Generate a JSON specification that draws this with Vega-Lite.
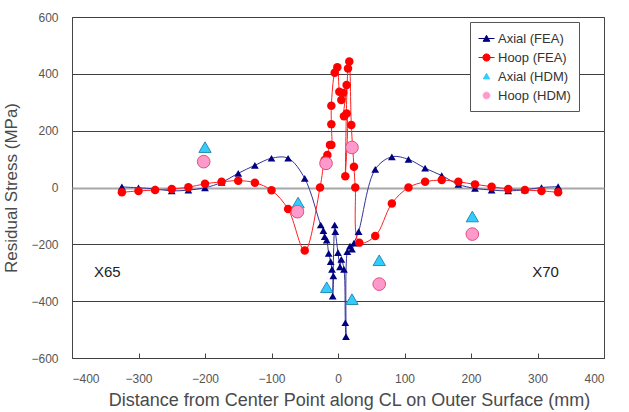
{
  "$schema": "https://vega.github.io/schema/vega-lite/v6.json",
  "width": 532,
  "height": 341,
  "autosize": {"type": "none"},
  "padding": {"left": 72, "top": 17, "right": 25, "bottom": 54},
  "background": "white",
  "config": {
    "view": {"stroke": "#444444", "strokeWidth": 1},
    "font": "Liberation Sans",
    "axis": {"labelFont": "Liberation Sans", "titleFont": "Liberation Sans", "titleFontWeight": "normal", "labelColor": "#555555", "titleColor": "#4a4a4a", "labelFontSize": 12}
  },
  "datasets": {
    "points": [
      {"series": "Axial (FEA)", "seq": 1, "x": -325, "y": 2},
      {"series": "Axial (FEA)", "seq": 2, "x": -300, "y": -1},
      {"series": "Axial (FEA)", "seq": 3, "x": -275, "y": -5},
      {"series": "Axial (FEA)", "seq": 4, "x": -250, "y": -12},
      {"series": "Axial (FEA)", "seq": 5, "x": -225, "y": -9},
      {"series": "Axial (FEA)", "seq": 6, "x": -200, "y": -1},
      {"series": "Axial (FEA)", "seq": 7, "x": -175, "y": 18},
      {"series": "Axial (FEA)", "seq": 8, "x": -150, "y": 50},
      {"series": "Axial (FEA)", "seq": 9, "x": -125, "y": 78},
      {"series": "Axial (FEA)", "seq": 10, "x": -100, "y": 103},
      {"series": "Axial (FEA)", "seq": 11, "x": -75, "y": 103},
      {"series": "Axial (FEA)", "seq": 12, "x": -50, "y": 32},
      {"series": "Axial (FEA)", "seq": 13, "x": -26, "y": -132},
      {"series": "Axial (FEA)", "seq": 14, "x": -22, "y": -152},
      {"series": "Axial (FEA)", "seq": 15, "x": -20, "y": -173},
      {"series": "Axial (FEA)", "seq": 16, "x": -17, "y": -185},
      {"series": "Axial (FEA)", "seq": 17, "x": -14, "y": -232},
      {"series": "Axial (FEA)", "seq": 18, "x": -11, "y": -261},
      {"series": "Axial (FEA)", "seq": 19, "x": -9, "y": -288},
      {"series": "Axial (FEA)", "seq": 20, "x": -7, "y": -311},
      {"series": "Axial (FEA)", "seq": 21, "x": -8, "y": -382},
      {"series": "Axial (FEA)", "seq": 22, "x": -5, "y": -132},
      {"series": "Axial (FEA)", "seq": 23, "x": -4, "y": -155},
      {"series": "Axial (FEA)", "seq": 24, "x": 0, "y": -229},
      {"series": "Axial (FEA)", "seq": 25, "x": 3, "y": -279},
      {"series": "Axial (FEA)", "seq": 26, "x": 5, "y": -253},
      {"series": "Axial (FEA)", "seq": 27, "x": 9, "y": -288},
      {"series": "Axial (FEA)", "seq": 28, "x": 11, "y": -476},
      {"series": "Axial (FEA)", "seq": 29, "x": 12, "y": -525},
      {"series": "Axial (FEA)", "seq": 30, "x": 14, "y": -226},
      {"series": "Axial (FEA)", "seq": 31, "x": 18, "y": -206},
      {"series": "Axial (FEA)", "seq": 32, "x": 21, "y": -217},
      {"series": "Axial (FEA)", "seq": 33, "x": 24, "y": -196},
      {"series": "Axial (FEA)", "seq": 34, "x": 31, "y": -155},
      {"series": "Axial (FEA)", "seq": 35, "x": 56, "y": 64},
      {"series": "Axial (FEA)", "seq": 36, "x": 81, "y": 108},
      {"series": "Axial (FEA)", "seq": 37, "x": 106, "y": 99},
      {"series": "Axial (FEA)", "seq": 38, "x": 131, "y": 68},
      {"series": "Axial (FEA)", "seq": 39, "x": 156, "y": 42},
      {"series": "Axial (FEA)", "seq": 40, "x": 181, "y": 11},
      {"series": "Axial (FEA)", "seq": 41, "x": 206, "y": -3},
      {"series": "Axial (FEA)", "seq": 42, "x": 231, "y": -9},
      {"series": "Axial (FEA)", "seq": 43, "x": 256, "y": -12},
      {"series": "Axial (FEA)", "seq": 44, "x": 281, "y": -8},
      {"series": "Axial (FEA)", "seq": 45, "x": 306, "y": 0},
      {"series": "Axial (FEA)", "seq": 46, "x": 331, "y": 3},
      {"series": "Hoop (FEA)", "seq": 1, "x": -325, "y": -17},
      {"series": "Hoop (FEA)", "seq": 2, "x": -300, "y": -12},
      {"series": "Hoop (FEA)", "seq": 3, "x": -275, "y": -9},
      {"series": "Hoop (FEA)", "seq": 4, "x": -250, "y": -5},
      {"series": "Hoop (FEA)", "seq": 5, "x": -225, "y": 1},
      {"series": "Hoop (FEA)", "seq": 6, "x": -200, "y": 13},
      {"series": "Hoop (FEA)", "seq": 7, "x": -175, "y": 20},
      {"series": "Hoop (FEA)", "seq": 8, "x": -150, "y": 24},
      {"series": "Hoop (FEA)", "seq": 9, "x": -125, "y": 17},
      {"series": "Hoop (FEA)", "seq": 10, "x": -100, "y": -10},
      {"series": "Hoop (FEA)", "seq": 11, "x": -75, "y": -76},
      {"series": "Hoop (FEA)", "seq": 12, "x": -50, "y": -222},
      {"series": "Hoop (FEA)", "seq": 13, "x": -27, "y": 0},
      {"series": "Hoop (FEA)", "seq": 14, "x": -20, "y": 97},
      {"series": "Hoop (FEA)", "seq": 15, "x": -16, "y": 114},
      {"series": "Hoop (FEA)", "seq": 16, "x": -12, "y": 150},
      {"series": "Hoop (FEA)", "seq": 17, "x": -10, "y": 150},
      {"series": "Hoop (FEA)", "seq": 18, "x": -10, "y": 223},
      {"series": "Hoop (FEA)", "seq": 19, "x": -10, "y": 288},
      {"series": "Hoop (FEA)", "seq": 20, "x": -5, "y": 404},
      {"series": "Hoop (FEA)", "seq": 21, "x": -1, "y": 423},
      {"series": "Hoop (FEA)", "seq": 22, "x": 2, "y": 337},
      {"series": "Hoop (FEA)", "seq": 23, "x": 5, "y": 308},
      {"series": "Hoop (FEA)", "seq": 24, "x": 8, "y": 333},
      {"series": "Hoop (FEA)", "seq": 25, "x": 13, "y": 361},
      {"series": "Hoop (FEA)", "seq": 26, "x": 9, "y": 251},
      {"series": "Hoop (FEA)", "seq": 27, "x": 13, "y": 260},
      {"series": "Hoop (FEA)", "seq": 28, "x": 11, "y": 40},
      {"series": "Hoop (FEA)", "seq": 29, "x": 15, "y": 419},
      {"series": "Hoop (FEA)", "seq": 30, "x": 17, "y": 443},
      {"series": "Hoop (FEA)", "seq": 31, "x": 20, "y": 220},
      {"series": "Hoop (FEA)", "seq": 32, "x": 24, "y": 73},
      {"series": "Hoop (FEA)", "seq": 33, "x": 26, "y": 0},
      {"series": "Hoop (FEA)", "seq": 34, "x": 32, "y": -194},
      {"series": "Hoop (FEA)", "seq": 35, "x": 56, "y": -171},
      {"series": "Hoop (FEA)", "seq": 36, "x": 81, "y": -56},
      {"series": "Hoop (FEA)", "seq": 37, "x": 106, "y": 0},
      {"series": "Hoop (FEA)", "seq": 38, "x": 131, "y": 20},
      {"series": "Hoop (FEA)", "seq": 39, "x": 156, "y": 26},
      {"series": "Hoop (FEA)", "seq": 40, "x": 181, "y": 20},
      {"series": "Hoop (FEA)", "seq": 41, "x": 206, "y": 11},
      {"series": "Hoop (FEA)", "seq": 42, "x": 231, "y": 3},
      {"series": "Hoop (FEA)", "seq": 43, "x": 256, "y": -5},
      {"series": "Hoop (FEA)", "seq": 44, "x": 281, "y": -9},
      {"series": "Hoop (FEA)", "seq": 45, "x": 306, "y": -12},
      {"series": "Hoop (FEA)", "seq": 46, "x": 331, "y": -17},
      {"series": "Axial (HDM)", "x": -200, "y": 142},
      {"series": "Axial (HDM)", "x": -60, "y": -53},
      {"series": "Axial (HDM)", "x": -17, "y": -351},
      {"series": "Axial (HDM)", "x": 21, "y": -393},
      {"series": "Axial (HDM)", "x": 62, "y": -256},
      {"series": "Axial (HDM)", "x": 202, "y": -102},
      {"series": "Hoop (HDM)", "x": -202, "y": 91},
      {"series": "Hoop (HDM)", "x": -61, "y": -85},
      {"series": "Hoop (HDM)", "x": -18, "y": 85},
      {"series": "Hoop (HDM)", "x": 21, "y": 141},
      {"series": "Hoop (HDM)", "x": 62, "y": -340},
      {"series": "Hoop (HDM)", "x": 202, "y": -164}
    ],
    "grades": [
      {"label": "X65", "x": -347, "y": -297},
      {"label": "X70", "x": 312, "y": -297}
    ]
  },
  "encoding": {
    "x": {
      "field": "x", "type": "quantitative",
      "scale": {"domain": [-400, 400], "nice": false, "zero": false},
      "axis": {
        "values": [-400, -300, -200, -100, 0, 100, 200, 300, 400],
        "grid": false, "domain": false, "tickSize": -5, "tickColor": "#444444",
        "labelPadding": 20,
        "title": "Distance from Center Point along CL on Outer Surface (mm)",
        "titleFontSize": 18, "titlePadding": 7, "titleX": 277
      }
    },
    "y": {
      "field": "y", "type": "quantitative",
      "scale": {"domain": [-600, 600], "nice": false, "zero": false},
      "axis": {
        "values": [-600, -400, -200, 0, 200, 400, 600],
        "grid": true,
        "gridColor": {"condition": {"test": "datum.value === 0", "value": "#a8a8a8"}, "value": "#404040"},
        "gridWidth": {"condition": {"test": "datum.value === 0", "value": 2}, "value": 1},
        "domain": false, "ticks": false, "labelPadding": 14,
        "title": "Residual Stress (MPa)",
        "titleFontSize": 17, "titlePadding": 10
      }
    }
  },
  "layer": [
    {
      "data": {"name": "points"},
      "transform": [{"filter": "datum.series === 'Axial (FEA)'"}],
      "mark": {"type": "line", "color": "#33339a", "strokeWidth": 1, "interpolate": "catmull-rom"},
      "encoding": {"order": {"field": "seq", "type": "quantitative"}}
    },
    {
      "data": {"name": "points"},
      "transform": [{"filter": "datum.series === 'Hoop (FEA)'"}],
      "mark": {"type": "line", "color": "#ff2020", "strokeWidth": 1, "interpolate": "catmull-rom"},
      "encoding": {"order": {"field": "seq", "type": "quantitative"}}
    },
    {
      "data": {"name": "points"},
      "transform": [{"filter": "datum.series === 'Axial (FEA)'"}],
      "mark": {"type": "point", "shape": "triangle-up", "filled": true, "color": "#000080", "opacity": 1, "size": 60}
    },
    {
      "data": {"name": "points"},
      "transform": [{"filter": "datum.series === 'Hoop (FEA)'"}],
      "mark": {"type": "point", "shape": "circle", "filled": true, "color": "#ff0000", "opacity": 1, "size": 72}
    },
    {
      "data": {"name": "points"},
      "transform": [{"filter": "datum.series === 'Axial (HDM)'"}],
      "mark": {"type": "point", "shape": "triangle-up", "filled": true, "fill": "#33ccff", "stroke": "#2a8cb0", "strokeWidth": 1, "opacity": 1, "size": 150}
    },
    {
      "data": {"name": "points"},
      "transform": [{"filter": "datum.series === 'Hoop (HDM)'"}],
      "mark": {"type": "point", "shape": "circle", "filled": true, "fill": "#ff99cc", "stroke": "#e0507a", "strokeWidth": 1, "opacity": 1, "size": 160}
    },
    {
      "data": {"name": "grades"},
      "mark": {"type": "text", "fontSize": 15, "font": "Liberation Sans", "color": "#222222", "align": "center", "baseline": "middle"},
      "encoding": {"text": {"field": "label"}}
    },
    {
      "data": {"name": "points"},
      "mark": {"type": "point", "filled": true, "opacity": 0},
      "encoding": {
        "color": {
          "field": "series", "type": "nominal",
          "scale": {"domain": ["Axial (FEA)", "Hoop (FEA)", "Axial (HDM)", "Hoop (HDM)"], "range": ["#000080", "#ff0000", "#33ccff", "#ff99cc"]},
          "legend": {
            "title": null, "orient": "none", "legendX": 398, "legendY": 5,
            "fillColor": "white", "strokeColor": "#555555", "padding": 8,
            "rowPadding": 3, "symbolSize": 256, "symbolOpacity": 1, "symbolStrokeWidth": 1,
            "labelFont": "Liberation Sans", "labelFontSize": 13, "labelColor": "#333333", "labelOffset": 3,
            "encode": {"symbols": {"update": {"stroke": {"scale": "color", "field": "value"}, "opacity": {"value": 1}}}}
          }
        },
        "shape": {
          "field": "series", "type": "nominal",
          "scale": {"domain": ["Axial (FEA)", "Hoop (FEA)", "Axial (HDM)", "Hoop (HDM)"],
            "range": [
              "M-1,0H1M-0.42,0.35L0,-0.4L0.42,0.35Z",
              "M-1,0H1M0.45,0A0.45,0.45 0 1,1 -0.45,0A0.45,0.45 0 1,1 0.45,0Z",
              "M-0.4,0.3L0,-0.4L0.4,0.3Z",
              "M0.42,0A0.42,0.42 0 1,1 -0.42,0A0.42,0.42 0 1,1 0.42,0Z"
            ]},
          "legend": {
            "title": null, "orient": "none", "legendX": 398, "legendY": 5,
            "fillColor": "white", "strokeColor": "#555555", "padding": 8,
            "rowPadding": 3, "symbolSize": 256, "symbolOpacity": 1, "symbolStrokeWidth": 1,
            "labelFont": "Liberation Sans", "labelFontSize": 13, "labelColor": "#333333", "labelOffset": 3,
            "encode": {"symbols": {"update": {"stroke": {"scale": "color", "field": "value"}, "opacity": {"value": 1}}}}
          }
        }
      }
    }
  ]
}
